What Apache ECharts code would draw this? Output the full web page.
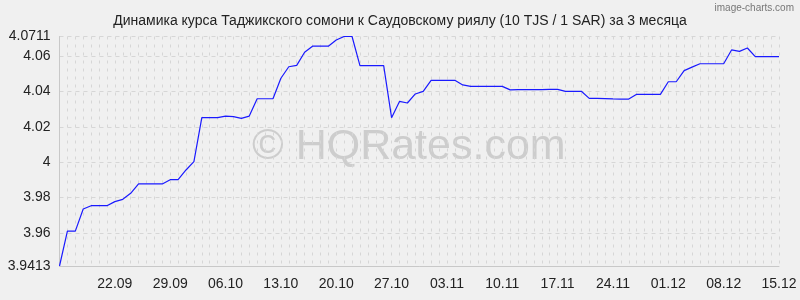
<!DOCTYPE html>
<html><head><meta charset="utf-8">
<script src="https://cdn.jsdelivr.net/npm/echarts@6/dist/echarts.min.js"></script>
<style>html,body{margin:0;padding:0;background:#f0f0f0}#c{width:800px;height:300px}</style>
</head><body><div id="c"></div>
<script>
var titleText = 'Динамика курса Таджикского сомони к Саудовскому риялу (10 TJS / 1 SAR) за 3 месяца';
var startDate = [2024, 8, 15]; // 15.09
var values = [
 3.9413, 3.9610, 3.9610, 3.9735, 3.9754, 3.9754, 3.9754, 3.9777, 3.9790, 3.9824,
 3.9877, 3.9877, 3.9877, 3.9877, 3.9901, 3.9901, 3.9956, 4.0003, 4.0252, 4.0252,
 4.0252, 4.0261, 4.0258, 4.0248, 4.0261, 4.0359, 4.0359, 4.0359, 4.0475, 4.0540,
 4.0548, 4.0622, 4.0656, 4.0656, 4.0656, 4.0691, 4.0711, 4.0711, 4.0546, 4.0546,
 4.0546, 4.0546, 4.0252, 4.0344, 4.0335, 4.0386, 4.0401, 4.0463, 4.0463, 4.0463,
 4.0463, 4.0437, 4.0429, 4.0429, 4.0429, 4.0429, 4.0429, 4.0409, 4.0410, 4.0411,
 4.0411, 4.0411, 4.0412, 4.0412, 4.0401, 4.0401, 4.0401, 4.0361, 4.0361, 4.0360,
 4.0358, 4.0357, 4.0357, 4.0384, 4.0384, 4.0384, 4.0384, 4.0455, 4.0455, 4.0518,
 4.0538, 4.0557, 4.0557, 4.0557, 4.0557, 4.0635, 4.0627, 4.0646, 4.0597, 4.0597,
 4.0597, 4.0597
];
var yTicks = [3.9413, 3.96, 3.98, 4, 4.02, 4.04, 4.06, 4.0711];
var yMin = 3.9413, yMax = 4.0711;

function pad(n){return (n<10?'0':'')+n;}
var categories = [];
for (var i = 0; i < values.length; i++) {
  var d = new Date(startDate[0], startDate[1], startDate[2] + i);
  categories.push(pad(d.getDate()) + '.' + pad(d.getMonth() + 1));
}

var chart = echarts.init(document.getElementById('c'), null, {renderer: 'canvas'});
var font = '"Liberation Sans", Arial, sans-serif';
chart.setOption({
  backgroundColor: '#f0f0f0',
  animation: false,
  title: {
    text: titleText, left: 'center', top: 9,
    textStyle: {fontFamily: font, fontSize: 14, fontWeight: 'normal', color: '#222'}
  },
  graphic: [
    {type: 'text', right: 6, top: 3, style: {text: 'image-charts.com', fontFamily: font, fontSize: 10, fill: '#777'}},
    {type: 'text', left: 252, top: 126, z: -1, style: {text: '© HQRates.com', fontFamily: font, fontSize: 43, fill: '#cdcdcd'}}
  ],
  grid: {left: 59.5, right: 21, top: 36.5, bottom: 34, containLabel: false},
  xAxis: {
    type: 'category', data: categories, boundaryGap: false,
    axisLine: {show: true, lineStyle: {color: '#c8c8c8', width: 1}},
    axisTick: {show: false},
    axisLabel: {
      interval: function (idx) { return idx >= 7 && (idx - 7) % 7 === 0; },
      fontFamily: font, fontSize: 14, color: '#222', margin: 11
    },
    splitLine: {show: true, interval: 0, lineStyle: {color: '#d6d6d6', type: [3, 5], width: 1}}
  },
  yAxis: {
    type: 'value', min: yMin, max: yMax, scale: true,
    axisLine: {show: true, lineStyle: {color: '#c8c8c8', width: 1}},
    axisTick: {show: false, customValues: yTicks},
    axisLabel: {customValues: yTicks, fontFamily: font, fontSize: 14, color: '#222', margin: 9,
      formatter: function (v) { return String(+v.toFixed(4)); }},
    splitLine: {show: true, lineStyle: {color: '#d6d6d6', type: [4, 4], width: 1}}
  },
  series: [{
    type: 'line', data: values, symbol: 'none', smooth: false,
    lineStyle: {color: '#1a1aff', width: 1.2}
  }]
});
</script></body></html>
